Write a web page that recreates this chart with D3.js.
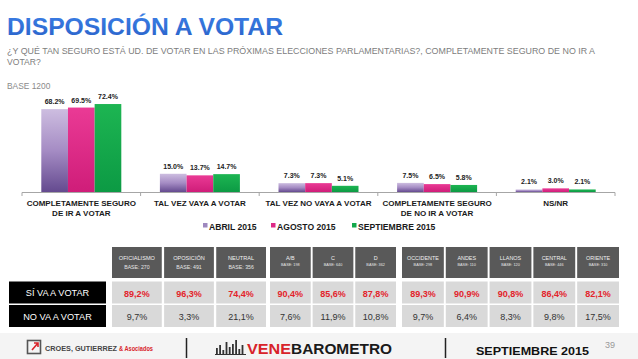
<!DOCTYPE html>
<html><head><meta charset="utf-8">
<script src="https://cdn.jsdelivr.net/npm/d3@7"></script>
<style>html,body{margin:0;padding:0;background:#fff;}svg{display:block;font-family:"Liberation Sans",Arial,sans-serif;}</style>
</head><body>
<script>
const categories = [["COMPLETAMENTE SEGURO","DE IR A VOTAR"],["TAL VEZ VAYA A VOTAR"],["TAL VEZ NO VAYA A VOTAR"],["COMPLETAMENTE SEGURO","DE NO IR A VOTAR"],["NS/NR"]];
const seriesNames = ["ABRIL 2015","AGOSTO 2015","SEPTIEMBRE 2015"];
const abril = [68.2, 15.0, 7.3, 7.5, 2.1];
const agosto = [69.5, 13.7, 7.3, 6.5, 3.0];
const septiembre = [72.4, 14.7, 5.1, 5.8, 2.1];

const tableGroups = [
  [["OFICIALISMO","BASE: 270"],["OPOSICIÓN","BASE: 491"],["NEUTRAL","BASE: 356"]],
  [["A/B","BASE: 198"],["C","BASE: 640"],["D","BASE: 362"]],
  [["OCCIDENTE","BASE: 298"],["ANDES","BASE: 110"],["LLANOS","BASE: 120"],["CENTRAL","BASE: 446"],["ORIENTE","BASE: 310"]]
];
const rowLabels = ["SÍ VA A VOTAR","NO VA A VOTAR"];
const siValues = ["89,2%","96,3%","74,4%","90,4%","85,6%","87,8%","89,3%","90,9%","90,8%","86,4%","82,1%"];
const noValues = ["9,7%","3,3%","21,1%","7,6%","11,9%","10,8%","9,7%","6,4%","8,3%","9,8%","17,5%"];

const W = 638, H = 359;
const svg = d3.select("body").append("svg").attr("width", W).attr("height", H);
const defs = svg.append("defs");

function vgrad(id, stops){
  const g = defs.append("linearGradient").attr("id", id).attr("x1",0).attr("y1",0).attr("x2",0).attr("y2",1);
  stops.forEach(s => g.append("stop").attr("offset", s[0]).attr("stop-color", s[1]));
}
vgrad("gTitle", [[0,"#3b7fe6"],[1,"#2a62c9"]]);
vgrad("gA", [[0,"#cdbde0"],[0.5,"#a58cc4"],[1,"#644a8f"]]);
vgrad("gB", [[0,"#ea3a95"],[1,"#cf1d79"]]);
vgrad("gC", [[0,"#1db552"],[1,"#0c9a44"]]);
const fills = ["url(#gA)","url(#gB)","url(#gC)"];
const legendColors = ["#9e88bf","#dd2a86","#14a84b"];

// Title
svg.append("text").attr("x",7).attr("y",35).attr("font-size",24).attr("font-weight","bold")
  .attr("fill","url(#gTitle)").attr("textLength",276).attr("lengthAdjust","spacingAndGlyphs")
  .text("DISPOSICIÓN A VOTAR");
svg.append("text").attr("x",7).attr("y",54).attr("font-size",8.6).attr("fill","#7d7d7d")
  .attr("textLength",588).attr("lengthAdjust","spacingAndGlyphs")
  .text("¿Y QUÉ TAN SEGURO ESTÁ UD. DE VOTAR EN LAS PRÓXIMAS ELECCIONES PARLAMENTARIAS?, COMPLETAMENTE SEGURO DE NO IR A");
svg.append("text").attr("x",7).attr("y",65).attr("font-size",8.6).attr("fill","#7d7d7d").text("VOTAR?");
svg.append("text").attr("x",7).attr("y",89).attr("font-size",8.4).attr("fill","#8a8a8a").text("BASE 1200");

// Chart
const x0 = d3.scaleBand().domain(d3.range(categories.length)).range([22,615]);
const x1 = d3.scaleBand().domain(d3.range(3)).range([0,80]);
const y = d3.scaleLinear().domain([0,100]).range([192,70.5]);
const data = [abril, agosto, septiembre];

const g = svg.append("g");
g.append("line").attr("x1",22).attr("x2",615).attr("y1",192.5).attr("y2",192.5).attr("stroke","#a6a6a6");
d3.range(categories.length+1).forEach(i=>{
  const xx = i<categories.length ? x0(i) : 615;
  g.append("line").attr("x1",xx).attr("x2",xx).attr("y1",192.5).attr("y2",196).attr("stroke","#a6a6a6");
});
categories.forEach((c,i)=>{
  const gx = x0(i) + (x0.bandwidth()-80)/2;
  data.forEach((s,k)=>{
    const v = s[i];
    g.append("rect").attr("x", gx + x1(k)).attr("width", x1.bandwidth())
      .attr("y", y(v)).attr("height", 192 - y(v)).attr("fill", fills[k]);
    g.append("text").attr("x", gx + x1(k) + x1.bandwidth()/2).attr("y", y(v)-5)
      .attr("text-anchor","middle").attr("font-size",7).attr("font-weight","bold").attr("fill","#222")
      .text(v.toFixed(1)+"%");
  });
  c.forEach((line,j)=>{
    g.append("text").attr("x", x0(i)+x0.bandwidth()/2).attr("y", 206 + j*9.5)
      .attr("text-anchor","middle").attr("font-size",8).attr("font-weight","bold").attr("fill","#1a1a1a")
      .text(line);
  });
});

// Legend
const legX = [203, 271, 352];
seriesNames.forEach((n,k)=>{
  svg.append("rect").attr("x",legX[k]).attr("y",223).attr("width",4.5).attr("height",4.5).attr("fill",legendColors[k]);
  svg.append("text").attr("x",legX[k]+6).attr("y",229.5).attr("font-size",8.6).attr("font-weight","bold").attr("fill","#1a1a1a").text(n);
});

// Table
const groupRanges = [[112,266],[270,396],[402,619]];
const cols = [];
tableGroups.forEach((grp,gi)=>{
  const sc = d3.scaleBand().domain(d3.range(grp.length)).range(groupRanges[gi]).paddingInner(0.045);
  grp.forEach((h,j)=>cols.push({x:sc(j), w:sc.bandwidth(), h, gi}));
});
const hdrY = 247, hdrH = 31, r1Y = 281.5, r2Y = 305, rH = 22;
cols.forEach((c,i)=>{
  svg.append("rect").attr("x",c.x).attr("y",hdrY).attr("width",c.w).attr("height",hdrH).attr("fill","#595959");
  const big = c.gi===0;
  svg.append("text").attr("x",c.x+c.w/2).attr("y", big?260:259.5).attr("text-anchor","middle")
    .attr("font-size", big?5.6:5.4).attr("fill","#f0f0f0").text(c.h[0]);
  svg.append("text").attr("x",c.x+c.w/2).attr("y", big?268.5:266).attr("text-anchor","middle")
    .attr("font-size", big?5.2:3.8).attr("fill","#e6e6e6").text(c.h[1]);
  svg.append("rect").attr("x",c.x).attr("y",r1Y).attr("width",c.w).attr("height",rH).attr("fill","#d9d9d9");
  svg.append("rect").attr("x",c.x).attr("y",r2Y).attr("width",c.w).attr("height",rH).attr("fill","#d9d9d9");
  svg.append("text").attr("x",c.x+c.w/2).attr("y",r1Y+15).attr("text-anchor","middle")
    .attr("font-size",9).attr("font-weight","bold").attr("fill","#e3232b").text(siValues[i]);
  svg.append("text").attr("x",c.x+c.w/2).attr("y",r2Y+15).attr("text-anchor","middle")
    .attr("font-size",9).attr("fill","#333").text(noValues[i]);
});
rowLabels.forEach((l,k)=>{
  const yy = k===0 ? r1Y : r2Y;
  svg.append("rect").attr("x",9).attr("y",yy).attr("width",97).attr("height",rH).attr("fill","#000");
  svg.append("text").attr("x",57.5).attr("y",yy+14.5).attr("text-anchor","middle").attr("font-size",9.2)
    .attr("fill","#fff").text(l);
});

// Footer
const ft = svg.append("g");
ft.append("rect").attr("x",0).attr("y",333).attr("width",W).attr("height",26).attr("fill","#f4f4f4");
// CG icon
ft.append("rect").attr("x",27.5).attr("y",340.5).attr("width",13).attr("height",13).attr("fill","none").attr("stroke","#555").attr("stroke-width",1.6);
ft.append("path").attr("d","M32 350 L38 343 M34 343 L38 343 L38 347").attr("stroke","#d8232a").attr("stroke-width",1.6).attr("fill","none");
ft.append("text").attr("x",45).attr("y",351).attr("font-size",7.5).attr("font-weight","bold").attr("fill","#444")
  .attr("textLength",72).attr("lengthAdjust","spacingAndGlyphs").text("CROES, GUTIERREZ");
ft.append("text").attr("x",119).attr("y",351).attr("font-size",7.5).attr("font-weight","bold").attr("fill","#d8232a")
  .attr("textLength",34).attr("lengthAdjust","spacingAndGlyphs").text("& Asociados");
ft.append("line").attr("x1",186.5).attr("x2",186.5).attr("y1",338).attr("y2",358).attr("stroke","#222").attr("stroke-width",1.5);
ft.append("line").attr("x1",445.5).attr("x2",445.5).attr("y1",338).attr("y2",358).attr("stroke","#222").attr("stroke-width",1.5);
// venebarometro icon
const iconBars = [6,9,4,12,7,10,14,5,9];
iconBars.forEach((h,i)=>{
  ft.append("rect").attr("x",216+i*3.2).attr("y",354-h).attr("width",1.8).attr("height",h).attr("fill","#333");
});
ft.append("line").attr("x1",215).attr("x2",246).attr("y1",354.5).attr("y2",354.5).attr("stroke","#333");
ft.append("text").attr("x",247).attr("y",354).attr("font-size",15).attr("font-weight","bold").attr("fill","#d8232a")
  .attr("textLength",44).attr("lengthAdjust","spacingAndGlyphs").text("VENE");
ft.append("text").attr("x",291).attr("y",354).attr("font-size",15).attr("font-weight","bold").attr("fill","#1a1a1a")
  .attr("textLength",101).attr("lengthAdjust","spacingAndGlyphs").text("BAROMETRO");
ft.append("text").attr("x",476).attr("y",355).attr("font-size",11.5).attr("font-weight","bold").attr("fill","#111")
  .attr("textLength",113).attr("lengthAdjust","spacingAndGlyphs").text("SEPTIEMBRE 2015");
ft.append("text").attr("x",605).attr("y",348).attr("font-size",9).attr("fill","#999").text("39");
</script>
</body></html>
